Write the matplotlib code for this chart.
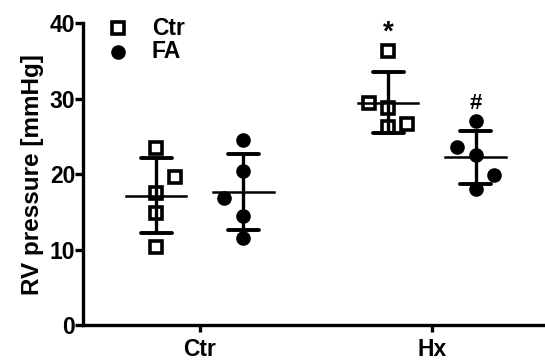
import numpy as np
import matplotlib.pyplot as plt

plt.rcParams['font.family'] = ['Liberation Sans', 'DejaVu Sans']
plt.rcParams['font.weight'] = 'bold'

groups = ["Ctr", "Hx"]
series = ["Ctr", "FA"]

# RV pressure values [mmHg], 5 animals per group
ctr_ctr = [23.5, 19.6, 17.5, 14.8, 10.4]
ctr_fa = [24.5, 20.4, 16.9, 14.5, 11.6]
hx_ctr = [36.3, 29.4, 28.7, 26.6, 26.3]
hx_fa = [27.1, 23.6, 22.5, 19.9, 18.0]

# horizontal scatter of points (in group units)
jit_ctr_ctr = [0, 0.082, 0, 0, 0]
jit_ctr_fa = [0, 0, -0.082, 0, 0]
jit_hx_ctr = [0, -0.085, 0, 0.082, 0]
jit_hx_fa = [0, -0.082, 0, 0.078, 0]

fig = plt.figure(figsize=(5.45, 3.62), dpi=100)
ax = fig.add_axes([0.152, 0.102, 0.848, 0.834])

OFF = 0.188
data = [
    (0 - OFF, ctr_ctr, jit_ctr_ctr, "s"),
    (0 + OFF, ctr_fa, jit_ctr_fa, "o"),
    (1 - OFF, hx_ctr, jit_hx_ctr, "s"),
    (1 + OFF, hx_fa, jit_hx_fa, "o"),
]

for xc, vals, jit, m in data:
    vals = np.array(vals)
    xs = xc + np.array(jit)
    if m == "s":
        ax.plot(xs, vals, ls='none', marker='s', ms=8.3, mfc='white', mec='black', mew=2.6, zorder=2)
    else:
        ax.plot(xs, vals, ls='none', marker='o', ms=9.5, mfc='black', mec='black', zorder=2)
    mu = vals.mean()
    sd = vals.std(ddof=1)
    ax.plot([xc, xc], [mu - sd, mu + sd], color='black', lw=2.4, zorder=3, solid_capstyle='butt')
    for y in (mu - sd, mu + sd):
        ax.plot([xc - 0.066, xc + 0.066], [y, y], color='black', lw=2.8, zorder=3, solid_capstyle='round')
    ax.plot([xc - 0.13, xc + 0.13], [mu, mu], color='black', lw=1.8, zorder=3)

# significance marks
ax.text(1 - OFF, 38.8, "*", ha='center', va='center', fontsize=20, fontweight='bold')
ax.text(1 + OFF, 29.4, "#", ha='center', va='center', fontsize=16, fontweight='bold')

# legend
ax.plot([-0.353], [39.3], ls='none', marker='s', ms=8.3, mfc='white', mec='black', mew=2.6, clip_on=False)
ax.plot([-0.353], [36.2], ls='none', marker='o', ms=9.5, mfc='black', mec='black', clip_on=False)
ax.text(-0.207, 39.3, series[0], va='center', fontsize=16.5, fontweight='bold')
ax.text(-0.207, 36.2, series[1], va='center', fontsize=16.5, fontweight='bold')

ax.set_xlim(-0.504, 1.487)
ax.set_ylim(0, 40)
ax.set_yticks([0, 10, 20, 30, 40])
ax.set_xticks([0, 1])
ax.set_xticklabels(groups, fontsize=16.5, fontweight='bold')
ax.tick_params(axis='y', labelsize=16.5, width=2.4, length=5.5, pad=0)
ax.tick_params(axis='x', width=2.4, length=5, pad=4)
for lab in ax.get_yticklabels():
    lab.set_fontweight('bold')
ax.set_ylabel("RV pressure [mmHg]", fontsize=17.5, fontweight='bold', labelpad=4)

for s in ['top', 'right']:
    ax.spines[s].set_visible(False)
for s in ['left', 'bottom']:
    ax.spines[s].set_linewidth(2.4)

fig.savefig('out.png', dpi=100)
